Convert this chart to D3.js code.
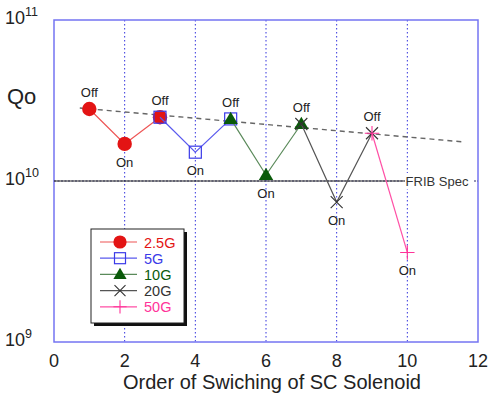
<!DOCTYPE html>
<html>
<head>
<meta charset="utf-8">
<script src="https://cdn.jsdelivr.net/npm/d3@7"></script>
<style>
  body { margin: 0; background: #fff; }
  text { font-family: "Liberation Sans", Arial, sans-serif; }
</style>
</head>
<body>
<div id="chart"></div>
<script>
const W = 489, H = 395
const margin = { top: 20, right: 11, bottom: 53, left: 54 }

// switching order and Qo values
const series = [
  { name: '2.5G', color: '#e31414', line: '#ee5555', marker: 'circle', xs: [1, 2, 3], qs: [2.8e10, 1.7e10, 2.49e10] },
  { name: '5G', color: '#3a3ae8', line: '#5a5aee', marker: 'square', xs: [3, 4, 5], qs: [2.49e10, 1.51e10, 2.43e10] },
  { name: '10G', color: '#0a5a0a', line: '#5a8a5a', marker: 'triangle', xs: [5, 6, 7], qs: [2.43e10, 1.09e10, 2.26e10] },
  { name: '20G', color: '#333333', line: '#555555', marker: 'cross', xs: [7, 8, 9], qs: [2.26e10, 7.4e9, 1.98e10] },
  { name: '50G', color: '#ff3399', line: '#ff4fa5', marker: 'plus', xs: [9, 10], qs: [1.98e10, 3.6e9] }
]
const stateX = [1, 2, 3, 4, 5, 6, 7, 8, 9, 10]
const stateQ = [2.8e10, 1.7e10, 2.49e10, 1.51e10, 2.43e10, 1.09e10, 2.26e10, 7.4e9, 1.98e10, 3.6e9]
const stateLabel = ['Off', 'On', 'Off', 'On', 'Off', 'On', 'Off', 'On', 'Off', 'On']
const trendX = [0.73, 11.57]
const trendQ = [2.84e10, 1.75e10]
const specQ = 1e10
const xTicks = [0, 2, 4, 6, 8, 10, 12]
const yTicks = [1e9, 1e10, 1e11]
const gridX = [2, 4, 6, 8, 10]

const svg = d3.select('#chart').append('svg')
  .attr('width', W).attr('height', H)

const x = d3.scaleLinear().domain([0, 12]).range([margin.left, W - margin.right])
const y = d3.scaleLog().domain([1e9, 1e11]).range([H - margin.bottom, margin.top])

// vertical dotted grid
svg.selectAll('.grid').data(gridX).enter().append('line')
  .attr('x1', d => x(d)).attr('x2', d => x(d))
  .attr('y1', y(1e11)).attr('y2', y(1e9))
  .attr('stroke', '#3333dd').attr('stroke-width', 1)
  .attr('stroke-dasharray', '1.5,2.5')

// frame
svg.append('rect')
  .attr('x', x(0)).attr('y', y(1e11))
  .attr('width', x(12) - x(0)).attr('height', y(1e9) - y(1e11))
  .attr('fill', 'none').attr('stroke', '#7474f2').attr('stroke-width', 1.5)

// FRIB spec line
svg.append('line')
  .attr('x1', x(0)).attr('x2', x(12))
  .attr('y1', y(specQ)).attr('y2', y(specQ))
  .attr('stroke', '#2a2a6a').attr('stroke-width', 1.2)
  .attr('stroke-dasharray', '2,1.5')
svg.append('line')
  .attr('x1', x(0)).attr('x2', x(9.93))
  .attr('y1', y(specQ)).attr('y2', y(specQ))
  .attr('stroke', '#333').attr('stroke-width', 1)
svg.append('rect')
  .attr('x', x(9.93)).attr('y', y(specQ) - 8)
  .attr('width', 69).attr('height', 16).attr('fill', '#fff')
svg.append('text')
  .attr('x', x(9.95)).attr('y', y(specQ) + 4.5)
  .attr('font-size', 13).attr('fill', '#333')
  .text('FRIB Spec')

// trend
svg.append('line')
  .attr('x1', x(trendX[0])).attr('y1', y(trendQ[0]))
  .attr('x2', x(trendX[1])).attr('y2', y(trendQ[1]))
  .attr('stroke', '#666').attr('stroke-width', 1.4)
  .attr('stroke-dasharray', '5,4')

const line = d3.line().x(d => x(d[0])).y(d => y(d[1]))

function drawMarker(g, type, color, size) {
  if (type === 'circle') {
    g.append('circle').attr('r', size * 0.6).attr('fill', color)
  } else if (type === 'square') {
    g.append('rect').attr('x', -size / 2).attr('y', -size / 2)
      .attr('width', size).attr('height', size)
      .attr('fill', 'none').attr('stroke', color).attr('stroke-width', 1.2)
  } else if (type === 'triangle') {
    const s = size * 0.6
    g.append('path').attr('d', `M0,${-s}L${s},${s * 0.7}L${-s},${s * 0.7}Z`).attr('fill', color)
  } else if (type === 'cross') {
    const s = size * 0.5
    g.append('path').attr('d', `M${-s},${-s}L${s},${s}M${-s},${s}L${s},${-s}`)
      .attr('stroke', color).attr('stroke-width', 1.1)
  } else {
    const s = size * 0.6
    g.append('path').attr('d', `M${-s},0L${s},0M0,${-s}L0,${s}`)
      .attr('stroke', color).attr('stroke-width', 1.1)
  }
}

series.forEach(s => {
  const pts = s.xs.map((v, i) => [v, s.qs[i]])
  svg.append('path').attr('d', line(pts))
    .attr('fill', 'none').attr('stroke', s.line).attr('stroke-width', 1.2)
  pts.forEach(p => {
    const g = svg.append('g').attr('transform', `translate(${x(p[0])},${y(p[1])})`)
    drawMarker(g, s.marker, s.color, 12)
  })
})

// On / Off labels
svg.selectAll('.state').data(stateX).enter().append('text')
  .attr('x', d => x(d))
  .attr('y', (d, i) => y(stateQ[i]) + (stateLabel[i] === 'Off' ? -12 : 23))
  .attr('text-anchor', 'middle').attr('font-size', 13).attr('fill', '#222')
  .text((d, i) => stateLabel[i])

// x tick labels
svg.selectAll('.xt').data(xTicks).enter().append('text')
  .attr('x', d => x(d)).attr('y', y(1e9) + 25)
  .attr('text-anchor', 'middle').attr('font-size', 18).attr('fill', '#222')
  .text(d => d)

// y tick labels 10^n
yTicks.forEach(v => {
  const t = svg.append('text')
    .attr('x', 5).attr('y', y(v) + 4)
    .attr('font-size', 18).attr('fill', '#222')
  t.append('tspan').text('10')
  t.append('tspan').attr('dy', -8).attr('font-size', 12.5).text(Math.round(Math.log10(v)))
})

svg.append('text').attr('x', 7).attr('y', 104)
  .attr('font-size', 22).attr('fill', '#222').text('Qo')

svg.append('text').attr('x', (x(0) + x(12)) / 2 + 6).attr('y', H - 6)
  .attr('text-anchor', 'middle').attr('font-size', 20).attr('fill', '#222')
  .text('Order of Swiching of SC Solenoid')

// legend
const lg = svg.append('g').attr('transform', 'translate(91,229)')
lg.append('rect').attr('x', 3).attr('y', 3).attr('width', 93).attr('height', 94).attr('fill', '#111')
lg.append('rect').attr('width', 93).attr('height', 94)
  .attr('fill', '#fff').attr('stroke', '#222').attr('stroke-width', 1)
series.forEach((s, i) => {
  const ly = 13 + i * 16.2
  lg.append('line').attr('x1', 9).attr('x2', 46).attr('y1', ly).attr('y2', ly)
    .attr('stroke', s.line).attr('stroke-width', 1.2)
  drawMarker(lg.append('g').attr('transform', `translate(29,${ly})`), s.marker, s.color, 11)
  lg.append('text').attr('x', 53).attr('y', ly + 5.5)
    .attr('font-size', 14.5).attr('fill', s.color).text(s.name)
})
</script>
</body>
</html>
